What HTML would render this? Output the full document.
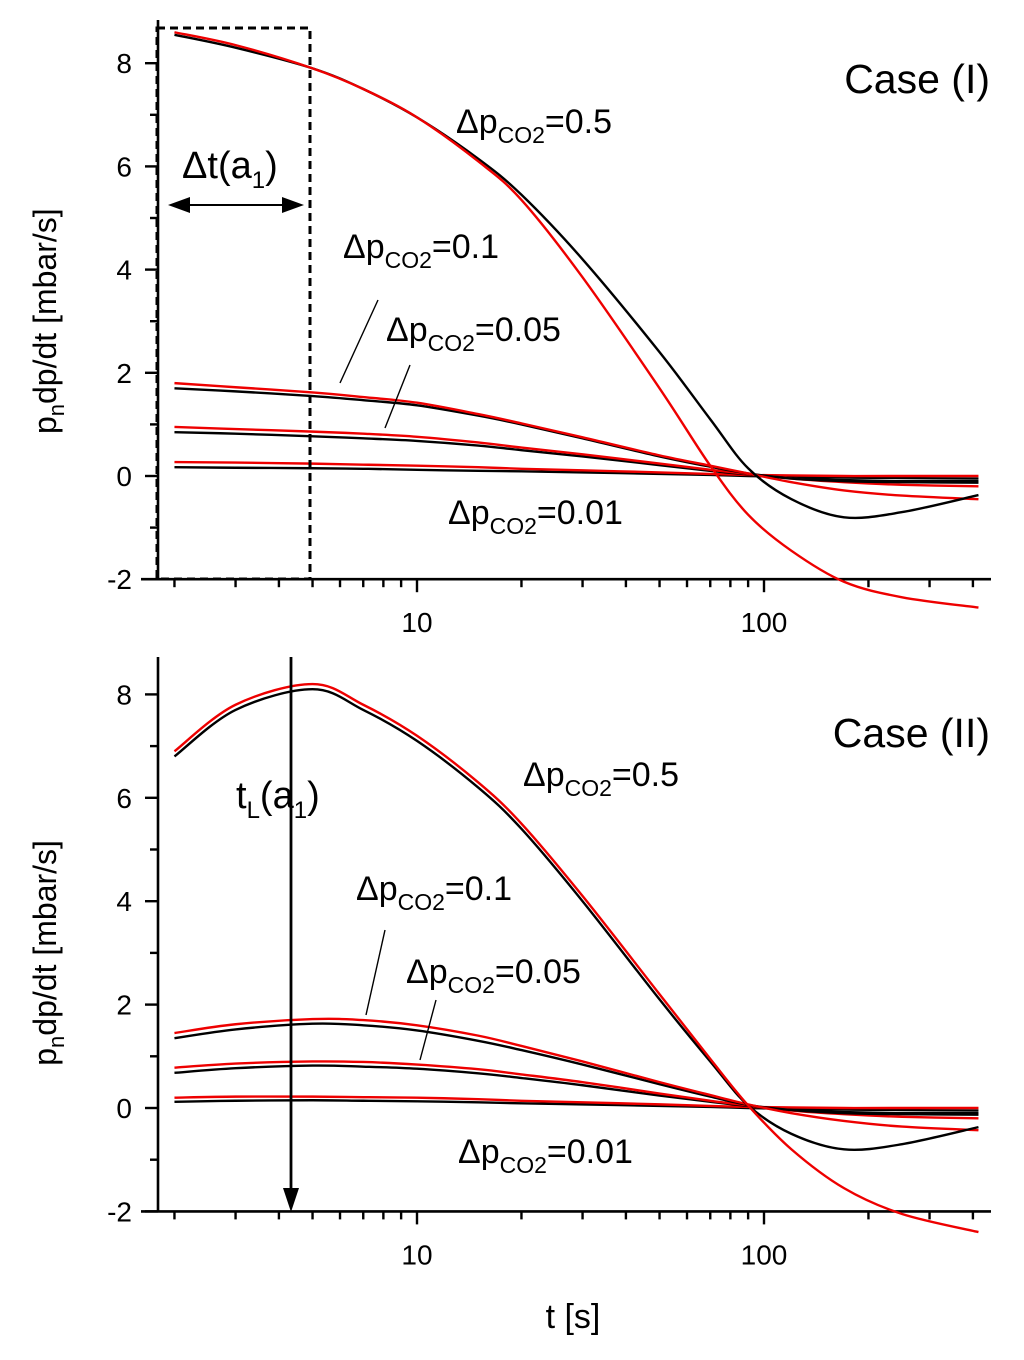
<!DOCTYPE html>
<html><head><meta charset="utf-8"><style>
html,body{margin:0;padding:0;background:#fff;}
svg{display:block;font-family:"Liberation Sans",Arial,sans-serif;}
</style></head><body>
<svg id="chart" width="1024" height="1360" viewBox="0 0 1024 1360"></svg>
<script>
const tVals=[2,3,5,7,10,15,20,30,50,70,90,120,170,250,415];
// Case I
const topBlack05=[8.55,8.3,7.9,7.5,6.95,6.15,5.45,4.2,2.4,1.1,0.15,-0.45,-0.8,-0.7,-0.37];
const topRed05=[8.6,8.35,7.9,7.5,6.95,6.1,5.35,3.85,1.7,0.2,-0.75,-1.45,-2.05,-2.35,-2.55];
const topRed01=[1.8,1.72,1.62,1.53,1.42,1.2,1.02,0.75,0.4,0.2,0.05,-0.12,-0.28,-0.38,-0.45];
const topBlack01=[1.7,1.64,1.55,1.47,1.37,1.17,1.0,0.73,0.38,0.18,0.05,-0.05,-0.1,-0.12,-0.13];
const topRed05b=[0.95,0.91,0.86,0.82,0.76,0.65,0.55,0.42,0.24,0.12,0.04,-0.05,-0.12,-0.17,-0.2];
const topBlack05b=[0.85,0.82,0.77,0.73,0.68,0.59,0.5,0.38,0.21,0.1,0.03,-0.04,-0.08,-0.1,-0.1];
const topRed001=[0.27,0.26,0.24,0.22,0.2,0.17,0.14,0.11,0.07,0.04,0.02,0.01,0.0,0.0,0.0];
const topBlack001=[0.17,0.16,0.15,0.14,0.12,0.1,0.09,0.07,0.04,0.02,0.0,-0.02,-0.03,-0.04,-0.05];
// Case II
const botBlack05=[6.8,7.7,8.1,7.7,7.1,6.2,5.4,4.0,2.1,0.9,0.05,-0.5,-0.8,-0.7,-0.37];
const botRed05=[6.9,7.8,8.2,7.8,7.2,6.3,5.5,4.1,2.2,0.95,0.05,-0.8,-1.55,-2.05,-2.4];
const botRed01=[1.45,1.62,1.72,1.7,1.6,1.4,1.2,0.9,0.5,0.25,0.07,-0.1,-0.25,-0.36,-0.43];
const botBlack01=[1.35,1.52,1.63,1.6,1.5,1.3,1.12,0.84,0.46,0.22,0.06,-0.04,-0.1,-0.12,-0.13];
const botRed05b=[0.78,0.86,0.9,0.89,0.84,0.75,0.65,0.5,0.28,0.14,0.05,-0.05,-0.12,-0.17,-0.2];
const botBlack05b=[0.68,0.77,0.82,0.8,0.76,0.67,0.58,0.44,0.24,0.12,0.04,-0.04,-0.08,-0.1,-0.1];
const botRed001=[0.2,0.22,0.22,0.21,0.2,0.17,0.14,0.11,0.07,0.04,0.02,0.01,0.0,0.0,0.0];
const botBlack001=[0.12,0.14,0.15,0.14,0.13,0.11,0.09,0.07,0.04,0.02,0.0,-0.02,-0.03,-0.04,-0.05];
const yTicks=[-2,0,2,4,6,8];
const xMajor=[10,100];
const xMinor=[2,3,4,5,6,7,8,9,20,30,40,50,60,70,80,90,200,300,400];

const NS="http://www.w3.org/2000/svg";
const svg=document.getElementById('chart');
function mk(tag,attrs,parent){const e=document.createElementNS(NS,tag);for(const k in attrs)e.setAttribute(k,attrs[k]);(parent||svg).appendChild(e);return e;}
const xS=t=>417+347*(Math.log10(t)-1);

function panel(name,y0,yUnit,axTop,series,labels){
  const g=mk('g',{});
  
  
  const yS=v=>y0-yUnit*v;
  const yBot=yS(-2);
  const ax=mk('path',{d:`M158 ${axTop} V${yBot} M141 ${yBot} H991`,stroke:'#000','stroke-width':2.6,fill:'none'},g);
  
  
  for(let v=-2;v<=8;v++){
    const y=yS(v);const major=v%2===0;
    mk('line',{x1:major?145:150,x2:158,y1:y,y2:y,stroke:'#000','stroke-width':2.4},g);
  }
  yTicks.forEach(v=>{
    const tx=mk('text',{x:132,y:yS(v)+10,'text-anchor':'end','font-size':28},g);
    tx.textContent=v;
    
    
  });
  xMajor.forEach(t=>{
    mk('line',{x1:xS(t),x2:xS(t),y1:yBot,y2:yBot+13,stroke:'#000','stroke-width':2.4},g);
    const tx=mk('text',{x:xS(t),y:yBot+53,'text-anchor':'middle','font-size':28},g);
    tx.textContent=t;
    
    
  });
  xMinor.forEach(t=>mk('line',{x1:xS(t),x2:xS(t),y1:yBot,y2:yBot+8,stroke:'#000','stroke-width':2.4},g));
  series.forEach(([arr,color,nm])=>{
    const pts=tVals.map((t,i)=>[xS(t),yS(arr[i])]);
    let d=`M${pts[0][0]} ${pts[0][1]}`;
    for(let i=0;i<pts.length-1;i++){
      const p0=pts[Math.max(0,i-1)],p1=pts[i],p2=pts[i+1],p3=pts[Math.min(pts.length-1,i+2)];
      const c1=[p1[0]+(p2[0]-p0[0])/6,p1[1]+(p2[1]-p0[1])/6];
      const c2=[p2[0]-(p3[0]-p1[0])/6,p2[1]-(p3[1]-p1[1])/6];
      d+=` C${c1[0]} ${c1[1]} ${c2[0]} ${c2[1]} ${p2[0]} ${p2[1]}`;
    }
    const p=mk('path',{d,stroke:color,'stroke-width':2.4,fill:'none'},g);
    
    
  });
  const yt=mk('text',{transform:`translate(56 ${yS(3)}) rotate(-90)`,'text-anchor':'middle','font-size':32},g);
  yt.innerHTML='p<tspan font-size="22" dy="8">n</tspan><tspan dy="-8">dp/dt [mbar/s]</tspan>';
  
  
  labels.forEach(([x,y,val])=>{
    const t=mk('text',{x,y,'font-size':34},g);
    t.innerHTML=`Δp<tspan font-size="23" dy="10">CO2</tspan><tspan dy="-10">=${val}</tspan>`;
    
    
  });
  return g;
}

const panelTop=panel('case-1-panel',476,51.6,20,[
 [topBlack001,'#000','black-001'],[topRed001,'#e00','red-001'],
 [topBlack05b,'#000','black-005'],[topRed05b,'#e00','red-005'],
 [topBlack01,'#000','black-01'],[topRed01,'#e00','red-01'],
 [topBlack05,'#000','black-05'],[topRed05,'#e00','red-05']],
 [[456,133,'0.5'],[343,258,'0.1'],[386,341,'0.05'],[448,524,'0.01']]);
const panelBot=panel('case-2-panel',1108,51.7,657,[
 [botBlack001,'#000','black-001'],[botRed001,'#e00','red-001'],
 [botBlack05b,'#000','black-005'],[botRed05b,'#e00','red-005'],
 [botBlack01,'#000','black-01'],[botRed01,'#e00','red-01'],
 [botBlack05,'#000','black-05'],[botRed05,'#e00','red-05']],
 [[523,786,'0.5'],[356,900,'0.1'],[406,983,'0.05'],[458,1163,'0.01']]);

[[340,383,378,300],[385,428,410,365],[366,1015,385,930],[420,1060,436,1000]].forEach(l=>{
  const e=mk('line',{x1:l[0],y1:l[1],x2:l[2],y2:l[3],stroke:'#000','stroke-width':1.4});
  
  
});
[[990,93,'Case (I)'],[990,747,'Case (II)']].forEach(c=>{
  const t=mk('text',{x:c[0],y:c[1],'text-anchor':'end','font-size':41});
  t.textContent=c[2];
  
  
});
const box=mk('rect',{x:157,y:28,width:153,height:551,fill:'none',stroke:'#000','stroke-width':3,'stroke-dasharray':'8,5'});


const da=mk('g',{});


mk('line',{x1:180,y1:205,x2:292,y2:205,stroke:'#000','stroke-width':2},da);
mk('polygon',{points:'168,205 190,197 190,213',fill:'#000'},da);
mk('polygon',{points:'304,205 282,197 282,213',fill:'#000'},da);
const dl=mk('text',{x:182,y:178,'font-size':38});
dl.innerHTML='Δt(a<tspan font-size="24" dy="10">1</tspan><tspan dy="-10">)</tspan>';


const va=mk('g',{});


mk('line',{x1:291,y1:657,x2:291,y2:1195,stroke:'#000','stroke-width':2.8},va);
mk('polygon',{points:'291,1212 283,1188 299,1188',fill:'#000'},va);
const tl=mk('text',{x:236,y:808,'font-size':38});
tl.innerHTML='t<tspan font-size="24" dy="10">L</tspan><tspan dy="-10">(a</tspan><tspan font-size="24" dy="10">1</tspan><tspan dy="-10">)</tspan>';


const xt=mk('text',{x:573,y:1328,'text-anchor':'middle','font-size':34});
xt.textContent='t [s]';


</script>
</body></html>
